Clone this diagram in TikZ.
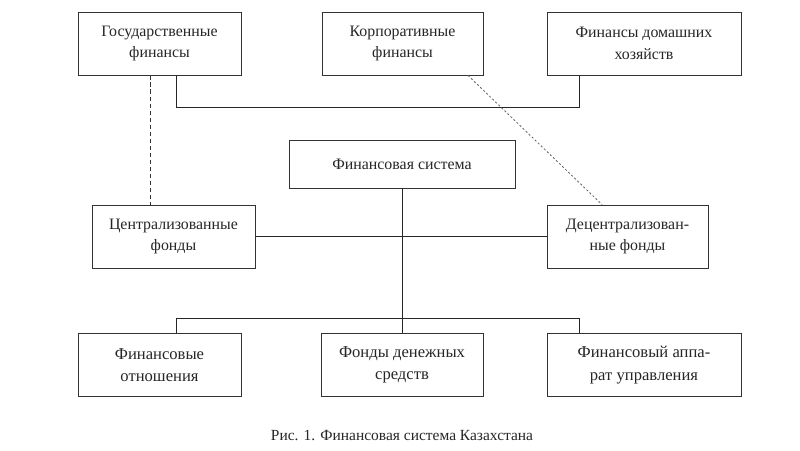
\documentclass[tikz,border=0pt]{standalone}
\usepackage{fontspec}
\setmainfont{Liberation Serif}
\usetikzlibrary{positioning}

\tikzset{
  block/.style={draw=black!80, line width=0.6pt, align=center, minimum height=1.575cm,
    inner sep=2pt, text=black!85, font=\fontsize{11.3}{15.5}\selectfont},
  bigblock/.style={block, font=\fontsize{11.8}{16}\selectfont},
  link/.style={draw=black!85, line width=0.6pt},
  weaklink/.style={draw=black!80, line width=0.6pt, dash pattern=on 3pt off 2pt},
  tracelink/.style={draw=black!60, line width=0.6pt, dash pattern=on 1.5pt off 1.5pt}
}

\begin{document}
\begin{tikzpicture}[x=0.025cm, y=-0.025cm]
    \useasboundingbox (0,0) rectangle (800,450);

    % Top row
    \node[block, minimum width=4.075cm] (gov) at (159.5,43.5) {Государственные\\финансы};
    \node[block, minimum width=4.025cm] (corp) at (402.5,43.5) {Корпоративные\\финансы};
    \node[block, minimum width=4.85cm] (house) at (644,43.5) {Финансы домашних\\хозяйств};

    % Middle
    \node[block, minimum width=5.65cm, minimum height=1.2cm] (finsys) at (402,164) {Финансовая система};
    \node[block, minimum width=4.075cm] (central) at (173.5,236.5) {Централизованные\\фонды};
    \node[block, minimum width=4.025cm] (decentral) at (627.5,236.5) {Децентрализован-\\ные фонды};

    % Bottom row
    \node[bigblock, minimum width=4.075cm] (relations) at (159.5,365) {Финансовые\\отношения};
    \node[bigblock, minimum width=4.05cm] (funds) at (402,365) {Фонды денежных\\средств};
    \node[bigblock, minimum width=4.85cm] (apparatus) at (644,365) {Финансовый аппа-\\рат управления};

    % Caption
    \node[below=0.72cm of funds, text=black!85, font=\fontsize{11}{14}\selectfont] (caption) {Рис. 1. Финансовая система Казахстана};

    % Links between the top boxes
    \coordinate (upL) at (176,107);
    \coordinate (upR) at (579,107);
    \draw[link] (gov.south -| upL) -- (upL) -- (upR) -- (house.south -| upR);

    \coordinate (dashx) at (150,0);
    \draw[weaklink] (gov.south -| dashx) -- (central.north -| dashx);

    \coordinate (traceA) at (468,0);
    \coordinate (traceB) at (602,0);
    \draw[tracelink] (corp.south -| traceA) -- (decentral.north -| traceB);

    % Financial system tree
    \draw[link] (central.east) -- (decentral.west);
    \draw[link] (finsys.south) -- (funds.north);
    \coordinate (lowL) at (176,318);
    \coordinate (lowR) at (579,318);
    \draw[link] (relations.north -| lowL) -- (lowL) -- (lowR) -- (apparatus.north -| lowR);

\end{tikzpicture}
\end{document}
